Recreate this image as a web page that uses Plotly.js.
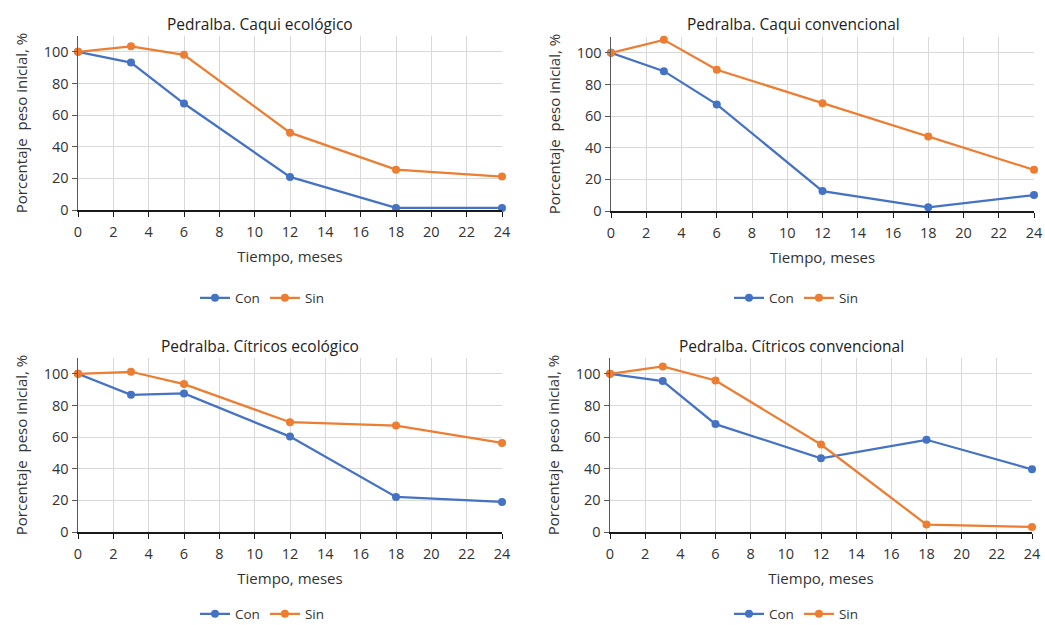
<!DOCTYPE html>
<html>
<head>
<meta charset="utf-8">
<script src="https://cdn.plot.ly/plotly-3.0.1.min.js"></script>
<style>html,body{margin:0;padding:0;background:#fff;}#chart{width:1045px;height:625px;}</style>
</head>
<body>
<div id="chart"></div>
<script>
const months = [0, 3, 6, 12, 18, 24];
const panelTitles = ["Pedralba. Caqui ecológico", "Pedralba. Caqui convencional", "Pedralba. Cítricos ecológico", "Pedralba. Cítricos convencional"];
const seriesNames = ["Con", "Sin"];
const caquiEcoCon = [100, 93.2, 67.3, 20.9, 1.3, 1.3];
const caquiEcoSin = [100, 103.5, 98.1, 48.9, 25.5, 21.1];
const caquiConvCon = [100, 88.4, 67.4, 12.6, 2.3, 10.1];
const caquiConvSin = [100, 108.2, 89.3, 68.1, 47.1, 26.0];
const citEcoCon = [100, 86.7, 87.6, 60.3, 22.2, 19.0];
const citEcoSin = [100, 101.3, 93.5, 69.4, 67.3, 56.3];
const citConvCon = [100, 95.4, 68.2, 46.6, 58.3, 39.6];
const citConvSin = [100, 104.7, 95.8, 55.3, 4.7, 3.2];
const xTitle = "Tiempo, meses";
const yTitle = "Porcentaje  peso inicial, %";

const W = 1045, H = 625;
const colors = ["#4472C4", "#ED7D31"];
const panels = [
  {con: caquiEcoCon, sin: caquiEcoSin, x0: 78, x1: 502, yb: 210, titleX: 260, titleY: 24, legX: 262, legY: 298},
  {con: caquiConvCon, sin: caquiConvSin, x0: 611, x1: 1034, yb: 211, titleX: 793, titleY: 24, legX: 796, legY: 298},
  {con: citEcoCon, sin: citEcoSin, x0: 78, x1: 502, yb: 532, titleX: 260, titleY: 346, legX: 262, legY: 614},
  {con: citConvCon, sin: citConvSin, x0: 610, x1: 1032, yb: 532, titleX: 791, titleY: 346, legX: 796, legY: 614}
];
const pxPerUnit = 1.58;
const yMax = 110;

const font = "'Open Sans', 'Noto Sans', sans-serif";
const traces = [];
const layout = {
  width: W, height: H,
  margin: {l: 0, r: 0, t: 0, b: 0, autoexpand: false},
  paper_bgcolor: "#ffffff",
  plot_bgcolor: "#ffffff",
  font: {family: font, color: "#333333", size: 13},
  annotations: [],
  showlegend: true
};

panels.forEach((p, i) => {
  const n = i + 1;
  const xa = "x" + (n === 1 ? "" : n), ya = "y" + (n === 1 ? "" : n);
  const legName = "legend" + (n === 1 ? "" : n);
  [p.con, p.sin].forEach((vals, k) => {
    traces.push({
      type: "scatter", mode: "lines+markers",
      x: months, y: vals, name: seriesNames[k],
      xaxis: xa, yaxis: ya, legend: legName,
      line: {color: colors[k], width: 2.25},
      marker: {color: colors[k], size: 8, symbol: "circle"},
      cliponaxis: false, hoverinfo: "x+y"
    });
  });
  const yTop = Math.round(p.yb - yMax * pxPerUnit);
  layout["xaxis" + (n === 1 ? "" : n)] = {
    domain: [p.x0 / W, p.x1 / W], anchor: ya,
    range: [0, 24], dtick: 2, tick0: 0,
    showgrid: true, gridcolor: "#d9d9d9", gridwidth: 1,
    showline: true, linecolor: "#1a1a1a", linewidth: 1.5,
    ticks: "outside", ticklen: 5, tickcolor: "#1a1a1a", tickwidth: 1,
    ticklabelstandoff: 3,
    zeroline: false, automargin: false,
    tickfont: {family: font, size: 14.5, color: "#333333"},
    title: {text: xTitle, font: {family: font, size: 15, color: "#333333"}, standoff: 11},
    fixedrange: true
  };
  layout["yaxis" + (n === 1 ? "" : n)] = {
    domain: [1 - p.yb / H, 1 - yTop / H], anchor: xa,
    range: [0, yMax], dtick: 20, tick0: 0,
    showgrid: true, gridcolor: "#d9d9d9", gridwidth: 1,
    showline: true, linecolor: "#595959", linewidth: 1.5,
    ticks: "outside", ticklen: 5, tickcolor: "#595959", tickwidth: 1,
    zeroline: false, automargin: false,
    tickfont: {family: font, size: 14.5, color: "#333333"},
    title: {text: yTitle, font: {family: font, size: 15, color: "#333333"}, standoff: 12},
    fixedrange: true
  };
  layout[legName] = {
    orientation: "h", x: p.legX / W, y: 1 - p.legY / H,
    xanchor: "center", yanchor: "middle",
    font: {family: font, size: 13.5, color: "#333333"},
    bgcolor: "rgba(0,0,0,0)", itemwidth: 30, tracegroupgap: 0
  };
  layout.annotations.push({
    text: panelTitles[i], xref: "paper", yref: "paper",
    x: p.titleX / W, y: 1 - p.titleY / H, xanchor: "center", yanchor: "middle",
    showarrow: false, font: {family: font, size: 15.5, color: "#222222"}
  });
});

Plotly.newPlot("chart", traces, layout, {displayModeBar: false, staticPlot: true});
</script>
</body>
</html>
